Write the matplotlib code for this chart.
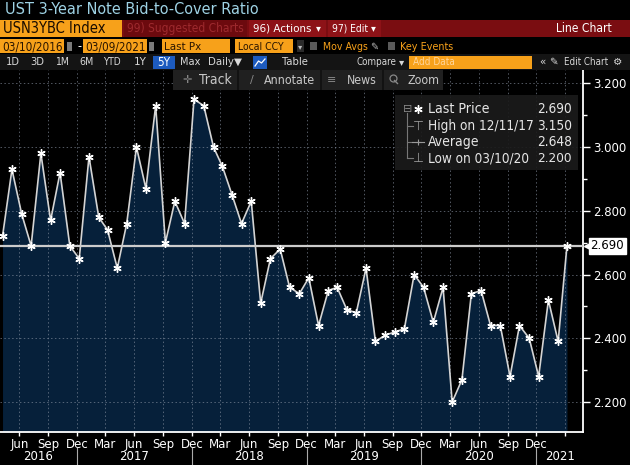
import matplotlib
matplotlib.use("Agg")
import matplotlib.pyplot as plt
import matplotlib.transforms as mtrans
from matplotlib.patches import Rectangle
from matplotlib import font_manager as fm
import pandas as pd

# ---------------------------------------------------------------
# data : monthly 3-year note auctions, Apr 2016 -> Mar 2021
# ---------------------------------------------------------------
bid_to_cover = [2.72, 2.93, 2.79, 2.69, 2.98, 2.77, 2.92, 2.69, 2.65, 2.97,
                2.78, 2.74, 2.62, 2.76, 3.00, 2.87, 3.13, 2.70, 2.83, 2.76,
                3.15, 3.13, 3.00, 2.94, 2.85, 2.76, 2.83, 2.51, 2.65, 2.68,
                2.56, 2.54, 2.59, 2.44, 2.55, 2.56, 2.49, 2.48, 2.62, 2.39,
                2.41, 2.42, 2.43, 2.60, 2.56, 2.45, 2.56, 2.20, 2.27, 2.54,
                2.55, 2.44, 2.44, 2.28, 2.44, 2.40, 2.28, 2.52, 2.39, 2.69]
auction_dates = pd.date_range("2016-04-01", periods=len(bid_to_cover), freq="MS") + pd.Timedelta(days=7)

last_price = 2.690
y_ticks = [2.2, 2.4, 2.6, 2.8, 3.0, 3.2]
y_minor = [2.3, 2.5, 2.7, 2.9, 3.1]
month_ticks = pd.date_range("2016-06-01", "2021-03-01", freq="3MS")
years = [2016, 2017, 2018, 2019, 2020, 2021]
legend_rows = [("Last Price", "2.690"), ("High on 12/11/17", "3.150"),
               ("Average", "2.648"), ("Low on 03/10/20", "2.200")]

# colours
ORANGE = "#f7a11a"
NAVY = "#06203a"
DKRED = "#7a0d11"

# a narrow face for the terminal chrome if one is installed
cond = [f for f in fm.fontManager.ttflist
        if ("Narrow" in f.name or "Condensed" in f.name or "condensed" in str(f.stretch))
        and f.style == "normal" and f.weight in (400, "normal", "regular")]
cond.sort(key=lambda f: ("Sans" not in f.name, f.name))
if cond:
    UI, UI_STRETCH = cond[0].name, cond[0].stretch
else:
    UI, UI_STRETCH = "Roboto", "normal"

fig = plt.figure(figsize=(6.3, 4.65), dpi=100, facecolor="black")
R = fig.canvas.get_renderer()

####################################################################
# main plot
####################################################################
ax = fig.add_axes([0, 33 / 465, 583 / 630, 362 / 465])
ax.set_facecolor("black")
x0 = pd.Timestamp("2016-03-31")
x1 = x0 + pd.Timedelta(days=1854)
ymin, ymax = 2.106, 3.242
ax.set_xlim(x0, x1)
ax.set_ylim(ymin, ymax)

ax.fill_between(auction_dates, bid_to_cover, ymin, color=NAVY, lw=0, zorder=1)
ax.plot(auction_dates, bid_to_cover, color="#d4d4d4", lw=1.2, zorder=3)
ax.plot(auction_dates, bid_to_cover, ls="none", marker=(6, 2, 0), ms=6,
        mec="white", mew=1.0, zorder=4)
ax.axhline(last_price, color="#cccccc", lw=1.6, zorder=3.5)

ax.grid(True, which="major", color="#8a94a4", ls=(0, (1.5, 2.5)), lw=0.7, alpha=0.6)

for s in ["left", "top"]:
    ax.spines[s].set_visible(False)
for s in ["right", "bottom"]:
    ax.spines[s].set_color("white")
    ax.spines[s].set_linewidth(1.3)

ax.yaxis.tick_right()
ax.set_yticks(y_ticks)
ax.set_yticklabels(["%.3f" % v for v in y_ticks])
ax.set_yticks(y_minor, minor=True)
ax.tick_params(axis="y", which="major", colors="white", length=5, width=1,
               pad=2, labelsize=8.5)
ax.tick_params(axis="y", which="minor", colors="white", length=3, width=1)

ax.set_xticks(month_ticks)
ax.set_xticklabels([d.strftime("%b") if d.year < 2021 else "" for d in month_ticks])
ax.tick_params(axis="x", colors="white", length=3, width=1, pad=1, labelsize=8.5)

# year row under the months
tr = mtrans.blended_transform_factory(ax.transData, ax.transAxes)
edges = [x0] + [pd.Timestamp("%d-12-01" % y) for y in years[:-1]] + [x1]
for i, y in enumerate(years):
    mid = edges[i] + (edges[i + 1] - edges[i]) / 2
    ax.text(mid, -0.069, str(y), transform=tr, color="white", fontsize=8.5,
            ha="center", va="center", clip_on=False)
for d in edges[1:-1]:
    ax.plot([d, d], [-0.045, -0.095], transform=tr, color="#aaaaaa", lw=0.8,
            clip_on=False)

# last price tag
tr2 = mtrans.blended_transform_factory(ax.transAxes, ax.transData)
ax.plot([1.007], [last_price], marker="<", ms=5, color="white", transform=tr2,
        clip_on=False)
ax.text(1.013, last_price, "%.3f" % last_price, transform=tr2, color="black",
        fontsize=8.5, ha="left", va="center", clip_on=False,
        bbox=dict(boxstyle="square,pad=0.15", fc="white", ec="white"))

####################################################################
# terminal chrome (pixel coordinates)
####################################################################
cax = fig.add_axes([0, 0, 1, 1], zorder=10)
cax.set_xlim(0, 630)
cax.set_ylim(465, 0)
cax.axis("off")


def box(xa, ya, xb, yb, c, **kw):
    cax.add_patch(Rectangle((xa, ya), xb - xa, yb - ya, fc=c, ec="none", **kw))


def txt(x, y, s, c="white", size=9, ha="left", w=None, sym=False):
    if sym:
        t = cax.text(x, y, s, color=c, fontsize=size, ha=ha, va="center",
                     family="DejaVu Sans")
    else:
        t = cax.text(x, y, s, color=c, fontsize=size, ha=ha, va="center",
                     family=[UI, "DejaVu Sans"], fontstretch=UI_STRETCH)
    if w:
        bw = t.get_window_extent(renderer=R).width
        if bw > w:
            t.set_fontsize(size * w / bw)
    return t


# title
txt(5, 10, "UST 3-Year Note Bid-to-Cover Ratio", c="#9ed2e4", size=13, w=252)

# row 2
box(0, 20, 630, 37, DKRED)
box(0, 20, 122, 37, ORANGE)
txt(3, 28.5, "USN3YBC Index", c="#1a0c00", size=11.5, w=103)
box(124, 20, 247, 37, "#6c0a0e")
txt(127, 28.5, "99) Suggested Charts", c="#9e2a2e", size=11, w=117)
box(249, 20, 326, 37, "#8d1217")
txt(253, 28.5, "96) Actions", size=11, w=58)
txt(316, 28.5, "\u25be", size=7, sym=True)
box(328, 20, 381, 37, "#8d1217")
txt(332, 28.5, "97) Edit", size=11, w=36)
txt(371, 28.5, "\u25be", size=7, sym=True)
txt(612, 28.5, "Line Chart", size=11, ha="right", w=56)

# row 3
for xa, xb, s, w in [(0, 64, "03/10/2016", 60), (83, 147, "03/09/2021", 60),
                     (162, 230, "Last Px", 37), (235, 293, "Local CCY", 46)]:
    box(xa, 39, xb, 53, ORANGE)
    txt(xa + 2.5, 46.5, s, c="#2a1500", size=10, w=w)
for xa in [66.5, 149]:
    box(xa, 42, xa + 5, 51, "#7a7a7a")
txt(78, 46.5, "-", size=9, w=5)
box(297, 40, 304, 52, "#2a2a2a")
txt(300.5, 46.5, "\u25be", c="#bbbbbb", size=6, ha="center", sym=True)
box(310, 42, 317, 50, "#5a5a5a")
txt(323, 46.5, "Mov Avgs", c=ORANGE, size=10, w=45)
txt(370, 46.5, "\u270e", c="#bbbbbb", size=7, sym=True)
box(388, 42, 395, 50, "#5a5a5a")
txt(400, 46.5, "Key Events", c=ORANGE, size=10, w=53)

# row 4
box(0, 54, 630, 70, "#141414")
for x, s, w in [(13, "1D", 14), (37.5, "3D", 14), (62, "1M", 14), (86.5, "6M", 14),
                (112, "YTD", 18), (140.5, "1Y", 13), (190.5, "Max", 20),
                (221, "Daily", 26), (295, "Table", 26), (376, "Compare", 40),
                (586, "Edit Chart", 44)]:
    txt(x, 62, s, c="#d8d8d8", size=8.5, ha="center", w=w)
for x, s in [(238, "\u25bc"), (402, "\u25be"), (542, "\u00ab"), (553, "\u270e"),
             (618, "\u2699")]:
    txt(x, 62, s, c="#d8d8d8", size=7.5, ha="center", sym=True)
box(153, 56, 175, 69, "#1d5bbf")
txt(164, 62, "5Y", size=8.5, ha="center", w=14)
box(253, 56, 267, 69, "#1d5bbf")
cax.plot([255, 258.5, 261.5, 265], [66, 61, 63, 59], color="white", lw=0.9)
box(409, 56, 532, 69, ORANGE)
txt(413, 62, "Add Data", c="#ffd59a", size=8.5, w=42)

# toolbar over the plot
box(173, 70, 443, 90, "#202020")
for x in [237, 320, 382]:
    box(x, 70, x + 1.5, 90, "#121212")
for x, s in [(187, "\u271b"), (252, "\u2215"), (332, "\u2261")]:
    txt(x, 80, s, c="#888888", size=8, ha="center", sym=True)
# magnifier icon
cax.plot([392.5], [78.5], marker="o", ms=5, mfc="none", mec="#888888", mew=0.9)
cax.plot([394.5, 397.5], [80.5, 83.5], color="#888888", lw=1)
for x, s, w in [(199, "Track", 34), (264, "Annotate", 51), (347, "News", 30),
                (408, "Zoom", 32)]:
    txt(x, 80, s, c="#c8c8c8", size=10, w=w)

# legend
box(395, 95, 578, 170, "#1b1b1b", alpha=0.92)
rows_y = [109, 126, 142, 158]
cax.plot([407, 407], [113, 158], color="#777777", lw=0.8)
for y in rows_y[1:]:
    cax.plot([407, 413], [y, y], color="#777777", lw=0.8)
txt(402.5, rows_y[0], "\u229f", c="#888888", size=8, sym=True)
cax.plot([418], [rows_y[0]], marker=(6, 2, 0), ms=6, mec="white", mew=1)
txt(418, rows_y[1], "\u22a4", c="#999999", size=9, ha="center", sym=True)
cax.plot([412, 424], [rows_y[2], rows_y[2]], color="#999999", lw=0.8)
cax.plot([418], [rows_y[2]], marker="+", ms=4, mec="#999999", mew=0.8)
txt(418, rows_y[3], "\u22a5", c="#999999", size=9, ha="center", sym=True)
for (lab, val), y, w in zip(legend_rows, rows_y, [62, 106, 52, 102]):
    txt(428, y, lab, c="#e6e6e6", size=10.5, w=w)
    txt(572, y, val, c="#e6e6e6", size=10.5, ha="right", w=35)

fig.savefig("out.png", dpi=100, facecolor="black")
